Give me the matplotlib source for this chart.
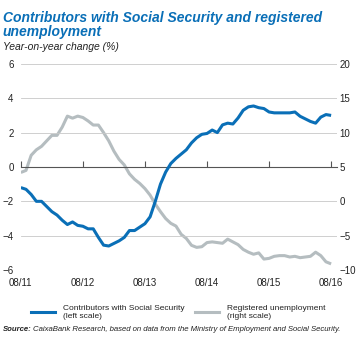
import numpy as np
import matplotlib.pyplot as plt
from matplotlib import font_manager

# pick a narrow sans if available (reference uses a condensed face)
names = {f.name for f in font_manager.fontManager.ttflist}
FONT = 'Liberation Sans Narrow' if 'Liberation Sans Narrow' in names else 'Liberation Sans'
plt.rcParams['font.family'] = [FONT, 'DejaVu Sans']

# monthly data, 08/2011 .. 08/2016
contributors = [-1.2, -1.3, -1.6, -2.0, -2.0, -2.3, -2.6, -2.8, -3.1, -3.35,
                -3.2, -3.4, -3.45, -3.6, -3.6, -4.1, -4.55, -4.6, -4.45, -4.3,
                -4.1, -3.7, -3.7, -3.5, -3.3, -2.9, -2.0, -1.0, -0.3, 0.2,
                0.5, 0.75, 1.0, 1.4, 1.7, 1.9, 1.95, 2.15, 2.0, 2.45,
                2.55, 2.5, 2.85, 3.3, 3.5, 3.55, 3.45, 3.4, 3.2, 3.15,
                3.15, 3.15, 3.15, 3.2, 2.95, 2.8, 2.65, 2.55, 2.9, 3.05, 3.0]
unemployment = [4.2, 4.5, 6.7, 7.5, 8.0, 8.8, 9.6, 9.6, 10.8, 12.4,
                12.1, 12.4, 12.2, 11.7, 11.1, 11.1, 10.0, 8.8, 7.3, 6.1,
                5.3, 4.0, 3.2, 2.6, 1.85, 0.9, -0.4, -1.5, -2.5, -3.2,
                -3.6, -4.8, -5.4, -6.4, -6.7, -6.6, -6.0, -5.9, -6.0, -6.1,
                -5.5, -5.9, -6.3, -7.0, -7.4, -7.7, -7.5, -8.4, -8.3, -8.0,
                -7.9, -7.9, -8.1, -8.0, -8.2, -8.1, -8.0, -7.4, -7.9, -8.8, -9.1]
tick_labels = ['08/11', '08/12', '08/13', '08/14', '08/15', '08/16']

months = np.arange(len(contributors))
BLUE = '#0a6fb7'
GREY = '#b5bdc0'
TXT = '#222222'

fig = plt.figure(figsize=(3.61, 3.38), dpi=100)
ax = fig.add_axes([0.057, 0.201, 0.876, 0.610])
ax2 = ax.twinx()

ax.set_ylim(-6, 6)
ax.set_yticks(np.arange(-6, 7, 2))
ax2.set_ylim(-10, 20)
ax2.set_yticks(np.arange(-10, 21, 5))
ax.set_xlim(-0.05, 61.1)

for v in np.arange(-6, 7, 2):
    if v != 0:
        ax.axhline(v, color='#c8c8c8', lw=0.6, zorder=0)

# grey series is on the right scale, draw it below the blue one
ax2.plot(months, unemployment, color=GREY, lw=2.2, solid_capstyle='butt')
ax.set_zorder(ax2.get_zorder() + 1)
ax.patch.set_visible(False)
ax.plot(months, contributors, color=BLUE, lw=2.2, solid_capstyle='butt', zorder=3)

# zero line carries the year ticks
ax.spines['bottom'].set_position(('data', 0))
ax.spines['bottom'].set_color('#555555')
ax.spines['bottom'].set_linewidth(0.8)
ax.set_xticks(np.arange(0, 61, 12))
ax.tick_params(axis='x', direction='in', length=4, width=0.8, color='#555555',
               labelbottom=False)
sec = ax.secondary_xaxis('bottom')
sec.set_xticks(np.arange(0, 61, 12), tick_labels)
sec.tick_params(length=0, pad=6, labelsize=7, labelcolor=TXT)
sec.spines['bottom'].set_visible(False)

for a in (ax, ax2):
    for s in ('top', 'left', 'right'):
        a.spines[s].set_visible(False)
ax2.spines['bottom'].set_visible(False)
ax.tick_params(axis='y', length=0, pad=5, labelsize=7, labelcolor=TXT)
ax2.tick_params(axis='y', length=0, pad=2, labelsize=7, labelcolor=TXT)

fig.text(0.008, 0.968, 'Contributors with Social Security and registered\nunemployment',
         color=BLUE, fontsize=10, fontweight='bold', style='italic',
         va='top', ha='left', linespacing=1.05)
fig.text(0.008, 0.862, 'Year-on-year change (%)', color=TXT, fontsize=7.5,
         style='italic', va='center', ha='left')

# legend
ax.plot([], [], color=BLUE, lw=2.2, label='Contributors with Social Security\n(left scale)')
ax.plot([], [], color=GREY, lw=2.2, label='Registered unemployment\n(right scale)')
fig.legend(loc='center left', bbox_to_anchor=(0.065, 0.076), ncol=2, frameon=False,
           fontsize=6.0, handlelength=2.9, columnspacing=1.3, handletextpad=0.9,
           labelcolor=TXT)

src = fig.text(0.008, 0.024, 'Source:', fontsize=5.6, style='italic',
               fontweight='bold', color=TXT, va='center', ha='left')
fig.canvas.draw()
bb = src.get_window_extent().transformed(fig.transFigure.inverted())
fig.text(bb.x1 + 0.003, 0.024,
         'CaixaBank Research, based on data from the Ministry of Employment and Social Security.',
         fontsize=5.6, style='italic', color=TXT, va='center', ha='left')

fig.savefig('out.png', dpi=100)
